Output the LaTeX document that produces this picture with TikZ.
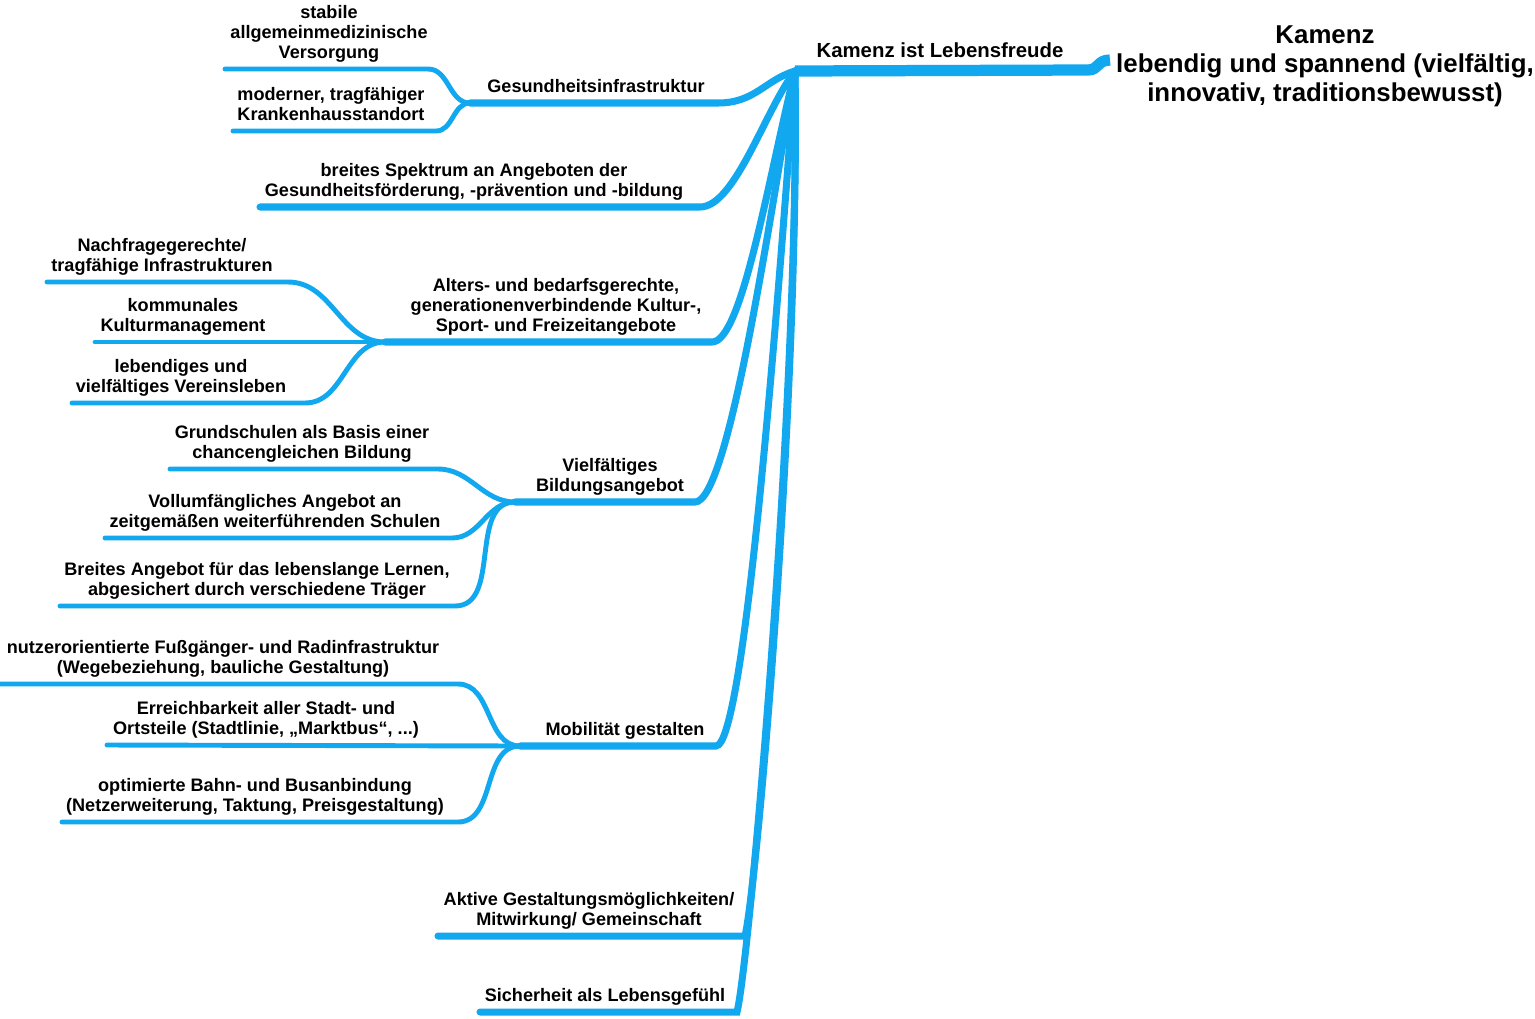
\documentclass[tikz,border=0pt]{standalone}
\usepackage{fontspec}
\setmainfont{Liberation Sans}
\definecolor{mapblue}{RGB}{18,168,240}

\begin{document}
\begin{tikzpicture}[
    x=0.02cm, y=-0.02cm,
    lbl/.style={%
      font=\fontsize{10.3}{11.4}\selectfont\bfseries,
      align=center,
      anchor=south,
      inner sep=0pt,
      execute at end node=\strut,
    },
    title/.style={%
      font=\fontsize{14.7}{16.4}\selectfont\bfseries,
      align=center,
      inner sep=0pt,
    },
    trunk/.style={mapblue, line width=6.4pt},
    bough/.style={mapblue, line width=4pt, line cap=round},
    twig/.style={mapblue, line width=2.8pt, line cap=round},
  ]
    \useasboundingbox (0,0) rectangle (1535,1018);

    % hub and junctions
    \coordinate (hub) at (795,71);
    \coordinate (gesJ) at (470,103);
    \coordinate (altJ) at (385,342);
    \coordinate (bilJ) at (515,502);
    \coordinate (mobJ) at (520,746);

    % line ends
    \coordinate (freudeR) at (1088,70);
    \coordinate (gesR) at (718,103);
    \coordinate (spekL) at (260,207);
    \coordinate (spekR) at (700,207);
    \coordinate (altR) at (712,342);
    \coordinate (bilR) at (695,502);
    \coordinate (mobR) at (716,746);
    \coordinate (aktL) at (438,936);
    \coordinate (aktR) at (745,936);
    \coordinate (sichL) at (480,1012);
    \coordinate (sichR) at (737,1012);

    \coordinate (gesAL) at (225,69);
    \coordinate (gesAR) at (428,69);
    \coordinate (gesBL) at (233,131);
    \coordinate (gesBR) at (436,131);
    \coordinate (altAL) at (47,282);
    \coordinate (altAR) at (288,282);
    \coordinate (altBL) at (95,342);
    \coordinate (altCL) at (72,403);
    \coordinate (altCR) at (305,403);
    \coordinate (bilAL) at (170,469);
    \coordinate (bilAR) at (438,469);
    \coordinate (bilBL) at (105,538);
    \coordinate (bilBR) at (452,538);
    \coordinate (bilCL) at (60,606);
    \coordinate (bilCR) at (455,606);
    \coordinate (mobAL) at (0,684);
    \coordinate (mobAR) at (458,684);
    \coordinate (mobBL) at (107,745);
    \coordinate (mobCL) at (62,822);
    \coordinate (mobCR) at (458,822);

    % labels
    \node [title] (root) at (1325,66) {Kamenz\\lebendig und spannend (vielfältig,\\innovativ, traditionsbewusst)};
    \coordinate (rootL) at (1110,60);

    \node [lbl, font=\fontsize{11.6}{12.8}\selectfont\bfseries] (freude) at (940,65) {Kamenz ist Lebensfreude};
    \node [lbl] (ges) at (596,99) {Gesundheitsinfrastruktur};
    \node [lbl] (spek) at (474,203) {breites Spektrum an Angeboten der\\Gesundheitsförderung, -prävention und -bildung};
    \node [lbl] (alt) at (556,338) {Alters- und bedarfsgerechte,\\generationenverbindende Kultur-,\\Sport- und Freizeitangebote};
    \node [lbl] (bil) at (610,498) {Vielfältiges\\Bildungsangebot};
    \node [lbl] (mob) at (625,742) {Mobilität gestalten};
    \node [lbl] (akt) at (589,932) {Aktive Gestaltungsmöglichkeiten/\\Mitwirkung/ Gemeinschaft};
    \node [lbl] (sich) at (605,1008) {Sicherheit als Lebensgefühl};

    \node [lbl] (gesA) at (329,65) {stabile\\allgemeinmedizinische\\Versorgung};
    \node [lbl] (gesB) at (331,127) {moderner, tragfähiger\\Krankenhausstandort};
    \node [lbl] (altA) at (162,278) {Nachfragegerechte/\\tragfähige Infrastrukturen};
    \node [lbl] (altB) at (183,338) {kommunales\\Kulturmanagement};
    \node [lbl] (altC) at (181,399) {lebendiges und\\vielfältiges Vereinsleben};
    \node [lbl] (bilA) at (302,465) {Grundschulen als Basis einer\\chancengleichen Bildung};
    \node [lbl] (bilB) at (275,534) {Vollumfängliches Angebot an\\zeitgemäßen weiterführenden Schulen};
    \node [lbl] (bilC) at (257,602) {Breites Angebot für das lebenslange Lernen,\\abgesichert durch verschiedene Träger};
    \node [lbl] (mobA) at (223,680) {nutzerorientierte Fußgänger- und Radinfrastruktur\\(Wegebeziehung, bauliche Gestaltung)};
    \node [lbl] (mobB) at (266,741) {Erreichbarkeit aller Stadt- und\\Ortsteile (Stadtlinie, „Marktbus“, ...)};
    \node [lbl] (mobC) at (255,818) {optimierte Bahn- und Busanbindung\\(Netzerweiterung, Taktung, Preisgestaltung)};

    % main line
    \draw [trunk] (hub) -- (freudeR) .. controls (1099,70) and (1097,60) .. (rootL);

    % first level
    \draw [bough] (gesJ) -- (gesR) .. controls (755,103) and (765,80) .. (hub);
    \draw [bough] (spekL) -- (spekR) .. controls (735,207) and (765,110) .. (hub);
    \draw [bough] (altJ) -- (altR) .. controls (742,342) and (768,180) .. (hub);
    \draw [bough] (bilJ) -- (bilR) .. controls (728,502) and (768,230) .. (hub);
    \draw [bough] (mobJ) -- (mobR) .. controls (745,746) and (778,300) .. (hub);
    \draw [bough] (aktL) -- (aktR) .. controls (758,880) and (800,380) .. (hub);
    \draw [bough] (sichL) -- (sichR) .. controls (750,960) and (800,380) .. (hub);

    % second level
    \draw [twig] (gesAL) -- (gesAR) to[out=0,in=180] (gesJ);
    \draw [twig] (gesBL) -- (gesBR) to[out=0,in=180] (gesJ);
    \draw [twig] (altAL) -- (altAR) to[out=0,in=180] (altJ);
    \draw [twig] (altBL) -- (altJ);
    \draw [twig] (altCL) -- (altCR) to[out=0,in=180] (altJ);
    \draw [twig] (bilAL) -- (bilAR) to[out=0,in=180] (bilJ);
    \draw [twig] (bilBL) -- (bilBR) to[out=0,in=180] (bilJ);
    \draw [twig] (bilCL) -- (bilCR) to[out=0,in=180] (bilJ);
    \draw [twig] (mobAL) -- (mobAR) to[out=0,in=180] (mobJ);
    \draw [twig] (mobBL) -- (mobJ);
    \draw [twig] (mobCL) -- (mobCR) to[out=0,in=180] (mobJ);

\end{tikzpicture}
\end{document}
